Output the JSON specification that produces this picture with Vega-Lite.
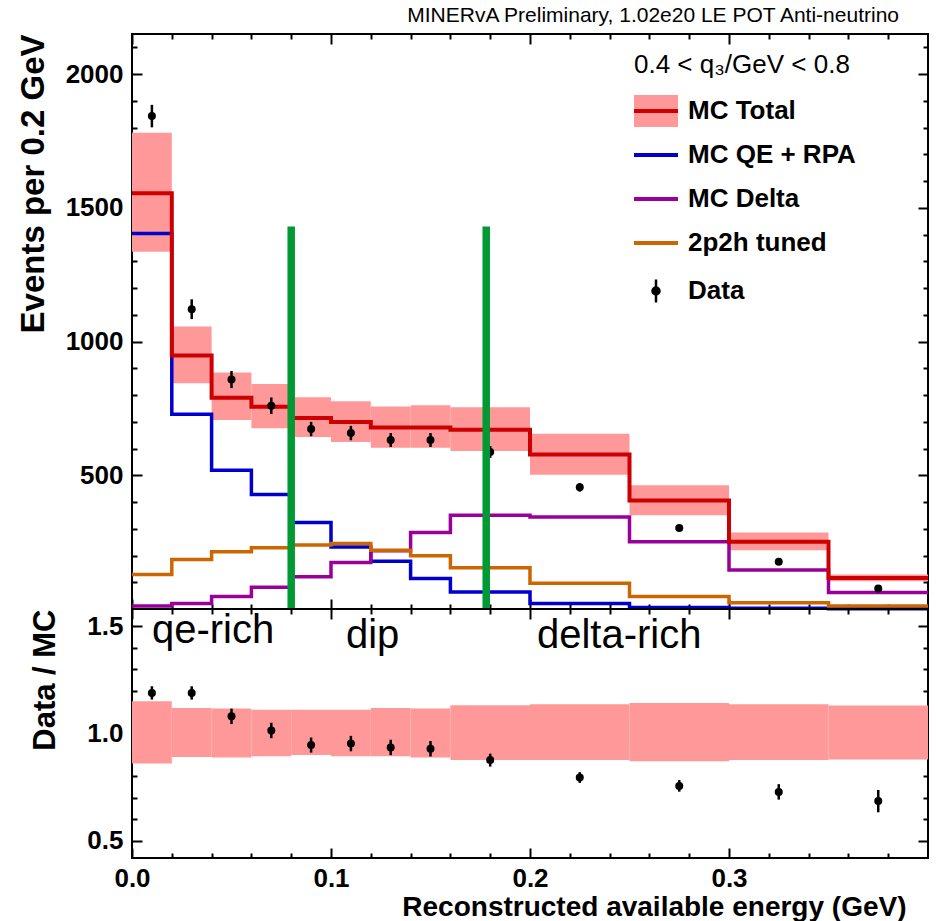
{
  "$schema": "https://vega.github.io/schema/vega-lite/v6.json",
  "padding": {"left": 16, "top": 5, "right": 5, "bottom": 0},
  "background": "white",
  "title": {"text": "MINERvA Preliminary, 1.02e20 LE POT Anti-neutrino", "anchor": "end", "fontSize": 21, "fontWeight": "normal", "font": "Liberation Sans", "color": "black", "offset": 6, "dx": -38},
  "spacing": 0,
  "bounds": "flush",
  "datasets": {
    "bins": [
      {"x0": 0.00, "x1": 0.02, "MC Total": 1555, "MC QE + RPA": 1404, "MC Delta": 11, "2p2h tuned": 129, "blo": 1336, "bhi": 1781, "rlo": 0.860, "rhi": 1.150, "xc": 0.01, "d": 1843, "derr": 42, "r": 1.189, "rerr": 0.031},
      {"x0": 0.02, "x1": 0.04, "MC Total": 948, "MC QE + RPA": 728, "MC Delta": 21, "2p2h tuned": 185, "blo": 844, "bhi": 1056, "rlo": 0.891, "rhi": 1.119, "xc": 0.03, "d": 1121, "derr": 37, "r": 1.189, "rerr": 0.031},
      {"x0": 0.04, "x1": 0.06, "MC Total": 790, "MC QE + RPA": 519, "MC Delta": 47, "2p2h tuned": 214, "blo": 707, "bhi": 884, "rlo": 0.888, "rhi": 1.116, "xc": 0.05, "d": 858, "derr": 32, "r": 1.080, "rerr": 0.036},
      {"x0": 0.06, "x1": 0.08, "MC Total": 756, "MC QE + RPA": 428, "MC Delta": 81, "2p2h tuned": 229, "blo": 676, "bhi": 841, "rlo": 0.894, "rhi": 1.111, "xc": 0.07, "d": 760, "derr": 31, "r": 1.014, "rerr": 0.036},
      {"x0": 0.08, "x1": 0.10, "MC Total": 714, "MC QE + RPA": 323, "MC Delta": 121, "2p2h tuned": 239, "blo": 643, "bhi": 792, "rlo": 0.900, "rhi": 1.111, "xc": 0.09, "d": 673, "derr": 27, "r": 0.946, "rerr": 0.035},
      {"x0": 0.10, "x1": 0.12, "MC Total": 699, "MC QE + RPA": 232, "MC Delta": 174, "2p2h tuned": 245, "blo": 624, "bhi": 777, "rlo": 0.894, "rhi": 1.111, "xc": 0.11, "d": 658, "derr": 27, "r": 0.953, "rerr": 0.036},
      {"x0": 0.12, "x1": 0.14, "MC Total": 679, "MC QE + RPA": 179, "MC Delta": 218, "2p2h tuned": 220, "blo": 603, "bhi": 757, "rlo": 0.894, "rhi": 1.119, "xc": 0.13, "d": 632, "derr": 26, "r": 0.935, "rerr": 0.036},
      {"x0": 0.14, "x1": 0.16, "MC Total": 679, "MC QE + RPA": 114, "MC Delta": 286, "2p2h tuned": 199, "blo": 603, "bhi": 762, "rlo": 0.888, "rhi": 1.116, "xc": 0.15, "d": 632, "derr": 26, "r": 0.929, "rerr": 0.036},
      {"x0": 0.16, "x1": 0.20, "MC Total": 670, "MC QE + RPA": 64, "MC Delta": 351, "2p2h tuned": 154, "blo": 591, "bhi": 754, "rlo": 0.876, "rhi": 1.132, "xc": 0.18, "d": 587, "derr": 22, "r": 0.876, "rerr": 0.030},
      {"x0": 0.20, "x1": 0.25, "MC Total": 578, "MC QE + RPA": 21, "MC Delta": 344, "2p2h tuned": 96, "blo": 502, "bhi": 655, "rlo": 0.876, "rhi": 1.136, "xc": 0.225, "d": 455, "derr": 16, "r": 0.795, "rerr": 0.025},
      {"x0": 0.25, "x1": 0.30, "MC Total": 406, "MC QE + RPA": 6, "MC Delta": 251, "2p2h tuned": 47, "blo": 351, "bhi": 463, "rlo": 0.871, "rhi": 1.142, "xc": 0.275, "d": 303, "derr": 11, "r": 0.756, "rerr": 0.027},
      {"x0": 0.30, "x1": 0.35, "MC Total": 251, "MC QE + RPA": 3, "MC Delta": 146, "2p2h tuned": 23, "blo": 220, "bhi": 286, "rlo": 0.876, "rhi": 1.136, "xc": 0.325, "d": 177, "derr": 9, "r": 0.728, "rerr": 0.036},
      {"x0": 0.35, "x1": 0.40, "MC Total": 116, "MC QE + RPA": 1, "MC Delta": 62, "2p2h tuned": 11, "blo": 104, "bhi": 129, "rlo": 0.879, "rhi": 1.130, "xc": 0.375, "d": 77, "derr": 6, "r": 0.685, "rerr": 0.052}
    ],
    "cuts": [
      {"e": 0.08, "top": 1430},
      {"e": 0.178, "top": 1430}
    ],
    "notes": [
      {"label": "qe-rich", "x": 0.010, "y": 1.42},
      {"label": "dip", "x": 0.1075, "y": 1.40},
      {"label": "delta-rich", "x": 0.2035, "y": 1.40}
    ]
  },
  "vconcat": [
    {
      "width": 796,
      "height": 575,
      "resolve": {"axis": {"x": "independent", "y": "independent"}},
      "layer": [
        {
          "data": {"name": "bins"},
          "mark": {"type": "rect"},
          "encoding": {
            "x": {"field": "x0", "type": "quantitative", "scale": {"domain": [0, 0.4], "nice": false, "zero": false},
                  "axis": {"orient": "bottom", "values": [0, 0.1, 0.2, 0.3], "tickSize": -10, "labels": false, "title": null}},
            "x2": {"field": "x1"},
            "y": {"field": "blo", "type": "quantitative", "scale": {"domain": [0, 2150], "nice": false, "zero": false},
                  "axis": {"orient": "left", "values": [500, 1000, 1500, 2000], "format": "d", "tickSize": -10, "labelPadding": 19, "title": "Events per 0.2 GeV", "titleAnchor": "end", "titleFontSize": 33, "titlePadding": 15}},
            "y2": {"field": "bhi"},
            "fill": {"datum": "MC Total", "type": "nominal", "scale": {"domain": ["MC Total"], "range": ["#ff9999"]},
                     "legend": {"orient": "none", "legendX": 502, "legendY": 18, "padding": 0, "zindex": 0,
                                "title": "0.4 < q₃/GeV < 0.8", "titleColor": "transparent", "titleFont": "Liberation Sans", "titleFontSize": 26, "titleFontWeight": "normal", "titlePadding": 20, "titleLimit": 500,
                                "symbolType": "M-1,-0.73H1V0.73H-1Z", "symbolSize": 1936, "symbolStrokeWidth": 0, "symbolOpacity": 1, "symbolOffset": 9,
                                "labelColor": "transparent", "labelFont": "Liberation Sans", "labelFontSize": 26, "labelFontWeight": "bold", "labelOffset": 19, "rowPadding": 18,
                                "encode": {"symbols": {"update": {"strokeWidth": {"signal": "datum.value === 'none' ? 0 : 0"}}}}}}
          }
        },
        {
          "data": {"name": "bins"},
          "transform": [
            {"fold": ["MC QE + RPA", "MC Delta", "2p2h tuned"], "as": ["series", "v"]},
            {"fold": ["x0", "x1"], "as": ["edge", "x"]}
          ],
          "mark": {"type": "line", "strokeWidth": 3.5, "interpolate": "linear"},
          "encoding": {
            "x": {"field": "x", "type": "quantitative", "scale": {"domain": [0, 0.4], "nice": false, "zero": false},
                  "axis": {"orient": "bottom", "values": [0.02, 0.04, 0.06, 0.08, 0.12, 0.14, 0.16, 0.18, 0.22, 0.24, 0.26, 0.28, 0.32, 0.34, 0.36, 0.38], "tickSize": -5, "labels": false, "title": null}},
            "y": {"field": "v", "type": "quantitative", "scale": {"domain": [0, 2150], "nice": false, "zero": false},
                  "axis": {"orient": "left", "values": [100, 200, 300, 400, 600, 700, 800, 900, 1100, 1200, 1300, 1400, 1600, 1700, 1800, 1900, 2100], "tickSize": -5, "labels": false, "title": null}},
            "stroke": {"field": "series", "type": "nominal",
                       "scale": {"domain": ["MC Total", "MC QE + RPA", "MC Delta", "2p2h tuned", "Data"], "range": ["#cc0000", "#0000cc", "#990099", "#cc6600", "black"]},
                       "legend": {"orient": "none", "legendX": 502, "legendY": 18, "padding": 0, "zindex": 1,
                                  "title": "0.4 < q₃/GeV < 0.8", "titleColor": "black", "titleFont": "Liberation Sans", "titleFontSize": 26, "titleFontWeight": "normal", "titlePadding": 20, "titleLimit": 500,
                                  "symbolType": "stroke", "symbolSize": 1936, "symbolStrokeWidth": 4, "symbolOffset": 9,
                                  "labelColor": "black", "labelFont": "Liberation Sans", "labelFontSize": 26, "labelFontWeight": "bold", "labelOffset": 19, "labelLimit": 500, "rowPadding": 18,
                                  "encode": {"symbols": {"update": {
                                    "shape": {"signal": "datum.value === 'Data' ? 'M0,-0.52V0.52M-0.16,0A0.16,0.16,0,1,0,0.16,0A0.16,0.16,0,1,0,-0.16,0Z' : 'stroke'"},
                                    "fill": {"signal": "datum.value === 'Data' ? 'black' : 'transparent'"},
                                    "strokeWidth": {"signal": "datum.value === 'Data' ? 2.5 : 4"}
                                  }}}}},
            "order": [{"field": "x0", "type": "quantitative"}, {"field": "edge", "type": "nominal"}]
          }
        },
        {
          "data": {"name": "bins"},
          "transform": [
            {"fold": ["x0", "x1"], "as": ["edge", "x"]}
          ],
          "mark": {"type": "line", "strokeWidth": 4, "interpolate": "linear"},
          "encoding": {
            "x": {"field": "x", "type": "quantitative", "scale": {"domain": [0, 0.4], "nice": false, "zero": false},
                  "axis": {"orient": "top", "values": [0, 0.1, 0.2, 0.3], "tickSize": -10, "labels": false, "title": null}},
            "y": {"field": "MC Total", "type": "quantitative", "scale": {"domain": [0, 2150], "nice": false, "zero": false},
                  "axis": {"orient": "right", "values": [500, 1000, 1500, 2000], "tickSize": -10, "labels": false, "title": null}},
            "stroke": {"datum": "MC Total", "type": "nominal"},
            "order": [{"field": "x0", "type": "quantitative"}, {"field": "edge", "type": "nominal"}]
          }
        },
        {
          "data": {"name": "bins"},
          "mark": {"type": "errorbar", "ticks": false, "thickness": 2.5, "color": "black"},
          "encoding": {
            "x": {"field": "xc", "type": "quantitative", "scale": {"domain": [0, 0.4], "nice": false, "zero": false}, "axis": null},
            "y": {"field": "d", "type": "quantitative", "scale": {"domain": [0, 2150], "nice": false, "zero": false}, "axis": null},
            "yError": {"field": "derr"}
          }
        },
        {
          "data": {"name": "bins"},
          "mark": {"type": "point", "filled": true, "shape": "circle", "size": 64, "color": "black", "opacity": 1},
          "encoding": {
            "x": {"field": "xc", "type": "quantitative", "scale": {"domain": [0, 0.4], "nice": false, "zero": false}, "axis": null},
            "y": {"field": "d", "type": "quantitative", "scale": {"domain": [0, 2150], "nice": false, "zero": false}, "axis": null}
          }
        },
        {
          "data": {"name": "cuts"},
          "mark": {"type": "rule", "strokeWidth": 7.5, "color": "#009933"},
          "encoding": {
            "x": {"field": "e", "type": "quantitative", "scale": {"domain": [0, 0.4], "nice": false, "zero": false},
                  "axis": {"orient": "top", "values": [0.02, 0.04, 0.06, 0.08, 0.12, 0.14, 0.16, 0.18, 0.22, 0.24, 0.26, 0.28, 0.32, 0.34, 0.36, 0.38], "tickSize": -5, "labels": false, "title": null}},
            "y": {"field": "top", "type": "quantitative", "scale": {"domain": [0, 2150], "nice": false, "zero": false},
                  "axis": {"orient": "right", "values": [100, 200, 300, 400, 600, 700, 800, 900, 1100, 1200, 1300, 1400, 1600, 1700, 1800, 1900, 2100], "tickSize": -5, "labels": false, "title": null}},
            "y2": {"datum": 0}
          }
        }
      ]
    },
    {
      "width": 796,
      "height": 249,
      "resolve": {"axis": {"x": "independent", "y": "independent"}},
      "layer": [
        {
          "data": {"name": "bins"},
          "mark": {"type": "rect", "color": "#ff9999"},
          "encoding": {
            "x": {"field": "x0", "type": "quantitative", "scale": {"domain": [0, 0.4], "nice": false, "zero": false},
                  "axis": {"orient": "bottom", "values": [0, 0.1, 0.2, 0.3], "format": ".1f", "tickSize": -10, "labelPadding": 17, "title": "Reconstructed available energy (GeV)", "titleAnchor": "end", "titleFontSize": 28, "titlePadding": 2, "titleX": 774}},
            "x2": {"field": "x1"},
            "y": {"field": "rlo", "type": "quantitative", "scale": {"domain": [0.42, 1.58], "nice": false, "zero": false},
                  "axis": {"orient": "left", "values": [0.5, 1.0, 1.5], "format": ".1f", "tickSize": -10, "labelPadding": 19, "title": "Data / MC", "titleAnchor": "end", "titleFontSize": 31, "titlePadding": 25}},
            "y2": {"field": "rhi"}
          }
        },
        {
          "data": {"name": "bins"},
          "mark": {"type": "errorbar", "ticks": false, "thickness": 2.5, "color": "black"},
          "encoding": {
            "x": {"field": "xc", "type": "quantitative", "scale": {"domain": [0, 0.4], "nice": false, "zero": false},
                  "axis": {"orient": "top", "values": [0.02, 0.04, 0.06, 0.08, 0.12, 0.14, 0.16, 0.18, 0.22, 0.24, 0.26, 0.28, 0.32, 0.34, 0.36, 0.38], "tickSize": -5, "labels": false, "title": null}},
            "y": {"field": "r", "type": "quantitative", "scale": {"domain": [0.42, 1.58], "nice": false, "zero": false},
                  "axis": {"orient": "right", "values": [0.6, 0.7, 0.8, 0.9, 1.1, 1.2, 1.3, 1.4], "tickSize": -5, "labels": false, "title": null}},
            "yError": {"field": "rerr"}
          }
        },
        {
          "data": {"name": "bins"},
          "mark": {"type": "point", "filled": true, "shape": "circle", "size": 64, "color": "black", "opacity": 1},
          "encoding": {
            "x": {"field": "xc", "type": "quantitative", "scale": {"domain": [0, 0.4], "nice": false, "zero": false},
                  "axis": {"orient": "bottom", "values": [0.02, 0.04, 0.06, 0.08, 0.12, 0.14, 0.16, 0.18, 0.22, 0.24, 0.26, 0.28, 0.32, 0.34, 0.36, 0.38], "tickSize": -5, "labels": false, "title": null}},
            "y": {"field": "r", "type": "quantitative", "scale": {"domain": [0.42, 1.58], "nice": false, "zero": false},
                  "axis": {"orient": "left", "values": [0.6, 0.7, 0.8, 0.9, 1.1, 1.2, 1.3, 1.4], "tickSize": -5, "labels": false, "title": null}}
          }
        },
        {
          "data": {"name": "notes"},
          "mark": {"type": "text", "align": "left", "baseline": "alphabetic", "font": "Liberation Sans", "fontSize": 40, "color": "black"},
          "encoding": {
            "x": {"field": "x", "type": "quantitative", "scale": {"domain": [0, 0.4], "nice": false, "zero": false},
                  "axis": {"orient": "top", "values": [0, 0.1, 0.2, 0.3], "tickSize": -10, "labels": false, "title": null}},
            "y": {"field": "y", "type": "quantitative", "scale": {"domain": [0.42, 1.58], "nice": false, "zero": false},
                  "axis": {"orient": "right", "values": [0.5, 1.0, 1.5], "tickSize": -10, "labels": false, "title": null}},
            "text": {"field": "label"}
          }
        }
      ]
    }
  ],
  "config": {
    "view": {"stroke": "black", "strokeWidth": 2},
    "axis": {"grid": false, "domain": false, "tickColor": "black", "tickWidth": 2, "labelFont": "Liberation Sans", "titleFont": "Liberation Sans", "labelColor": "black", "titleColor": "black", "labelFontWeight": "bold", "titleFontWeight": "bold", "labelFontSize": 26, "labelFlush": false, "labelOverlap": false}
  }
}
